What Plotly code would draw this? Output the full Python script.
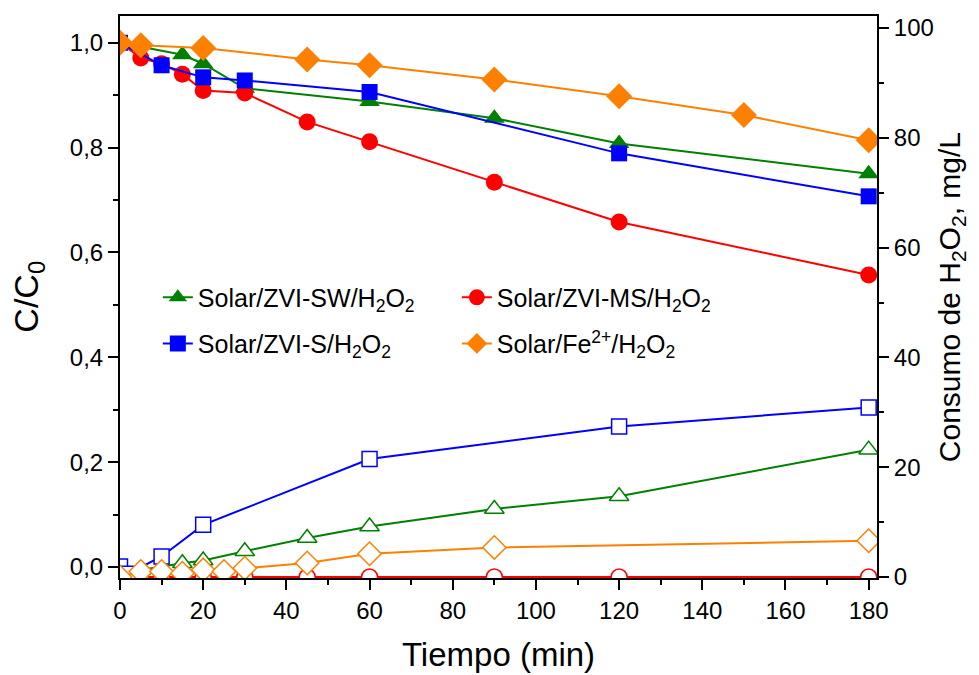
import plotly.graph_objects as go

# ---- data ----
# C/C0 (left axis, filled markers)
t_sw = [0, 15, 20, 30, 60, 90, 120, 180]
c_sw = [1.0, 0.977, 0.960, 0.913, 0.888, 0.856, 0.808, 0.750]

t_ms = [0, 5, 10, 15, 20, 30, 45, 60, 90, 120, 180]
c_ms = [1.0, 0.971, 0.960, 0.940, 0.909, 0.904, 0.849, 0.811, 0.734, 0.658, 0.557]

t_s = [0, 10, 20, 30, 60, 120, 180]
c_s = [1.0, 0.957, 0.934, 0.928, 0.906, 0.789, 0.707]

t_fe = [0, 5, 20, 45, 60, 90, 120, 150, 180]
c_fe = [1.0, 0.995, 0.990, 0.968, 0.957, 0.930, 0.898, 0.862, 0.814]

# H2O2 consumption, mg/L (right axis, hollow markers)
th_sw = [0, 5, 15, 20, 30, 45, 60, 90, 120, 180]
h_sw = [0.0, 1.3, 2.5, 3.0, 4.7, 7.1, 9.2, 12.4, 14.7, 23.2]

th_ms = [0, 5, 10, 15, 20, 30, 45, 60, 90, 120, 180]
h_ms = [0, 0, 0, 0, 0, 0, 0, 0, 0, 0, 0]

th_s = [0, 2, 10, 20, 60, 120, 180]
h_s = [1.9, 0.6, 3.75, 9.5, 21.5, 27.4, 30.9]

th_fe = [0, 5, 10, 15, 20, 25, 30, 45, 60, 90, 180]
h_fe = [0.0, 1.0, 1.0, 0.7, 1.3, 1.0, 1.6, 2.55, 4.24, 5.39, 6.6]

x_ticks = [0, 20, 40, 60, 80, 100, 120, 140, 160, 180]
y_ticks = [0.0, 0.2, 0.4, 0.6, 0.8, 1.0]
y2_ticks = [0, 20, 40, 60, 80, 100]

GREEN = "#008000"
RED = "#FF0000"
BLUE = "#0000FF"
ORANGE = "#FF8000"
FONT = "Liberation Sans"

fig = go.Figure()

# hollow (consumption) series on right axis
hollow = [
    (th_sw, h_sw, GREEN, "triangle-up", 17),
    (th_ms, h_ms, RED, "circle", 16),
    (th_s, h_s, BLUE, "square", 15),
    (th_fe, h_fe, ORANGE, "diamond", 18),
]
for tx, ty, col, sym, sz in hollow:
    fig.add_trace(go.Scatter(
        x=tx, y=ty, yaxis="y2", mode="lines+markers", showlegend=False,
        line=dict(color=col, width=2),
        marker=dict(symbol=sym, size=sz, color="white", line=dict(color=col, width=1.5)),
    ))

# filled (C/C0) series on left axis
filled = [
    (t_sw, c_sw, GREEN, "triangle-up", 18, "Solar/ZVI-SW/H<sub>2</sub>O<sub>2</sub>", "legend"),
    (t_ms, c_ms, RED, "circle", 17, "Solar/ZVI-MS/H<sub>2</sub>O<sub>2</sub>", "legend"),
    (t_s, c_s, BLUE, "square", 16, "Solar/ZVI-S/H<sub>2</sub>O<sub>2</sub>", "legend2"),
    (t_fe, c_fe, ORANGE, "diamond", 20, "Solar/Fe<sup>2+</sup>/H<sub>2</sub>O<sub>2</sub>", "legend2"),
]
for tx, ty, col, sym, sz, name, lg in filled:
    fig.add_trace(go.Scatter(
        x=tx, y=ty, yaxis="y", mode="lines+markers", name=name, legend=lg,
        line=dict(color=col, width=2),
        marker=dict(symbol=sym, size=sz, color=col, line=dict(width=0)),
    ))

axis_common = dict(
    showline=True, linecolor="black", linewidth=2,
    ticks="outside", ticklen=10, tickwidth=2, tickcolor="black",
    showgrid=False, zeroline=False, automargin=False,
    tickfont=dict(family=FONT, size=24, color="black"),
)

fig.update_layout(
    width=979, height=675,
    margin=dict(l=120, r=102, t=16, b=97),
    paper_bgcolor="white", plot_bgcolor="white",
    separators=", ",
    font=dict(family=FONT, color="black"),
    xaxis=dict(
        range=[0, 182], tickvals=x_ticks, mirror=True,
        minor=dict(ticks="outside", dtick=10, ticklen=5, tickwidth=2, tickcolor="black"),
        title=dict(text="Tiempo (min)", font=dict(family=FONT, size=33), standoff=20),
        **axis_common,
    ),
    yaxis=dict(
        range=[-0.021, 1.051], tickvals=y_ticks, tickformat=".1f",
        minor=dict(ticks="outside", dtick=0.1, tick0=0, ticklen=5, tickwidth=2, tickcolor="black"),
        **axis_common,
    ),
    yaxis2=dict(
        range=[-0.18, 102.2], tickvals=y2_ticks, overlaying="y", side="right",
        minor=dict(ticks="outside", dtick=10, tick0=0, ticklen=5, tickwidth=2, tickcolor="black"),
        **axis_common,
    ),
    annotations=[
        dict(text="C/C<sub>0</sub>", xref="paper", yref="paper", x=-0.122, y=0.5,
             xanchor="center", yanchor="middle", textangle=-90, showarrow=False,
             font=dict(family=FONT, size=34, color="black")),
        dict(text="Consumo de H<sub>2</sub>O<sub>2</sub>, mg/L", xref="paper", yref="paper",
             x=1.098, y=0.5, xanchor="center", yanchor="middle", textangle=-90,
             showarrow=False, font=dict(family=FONT, size=30, color="black")),
    ],
    legend=dict(
        orientation="h", x=0.050, xanchor="left", y=0.499, yanchor="middle",
        entrywidth=254, entrywidthmode="pixels",
        font=dict(family=FONT, size=25, color="black"), bgcolor="rgba(0,0,0,0)",
    ),
    legend2=dict(
        orientation="h", x=0.050, xanchor="left", y=0.417, yanchor="middle",
        entrywidth=254, entrywidthmode="pixels",
        font=dict(family=FONT, size=25, color="black"), bgcolor="rgba(0,0,0,0)",
    ),
)

fig.write_html("out.html", config={"displayModeBar": False},
               post_script="document.body.style.margin='0';")
